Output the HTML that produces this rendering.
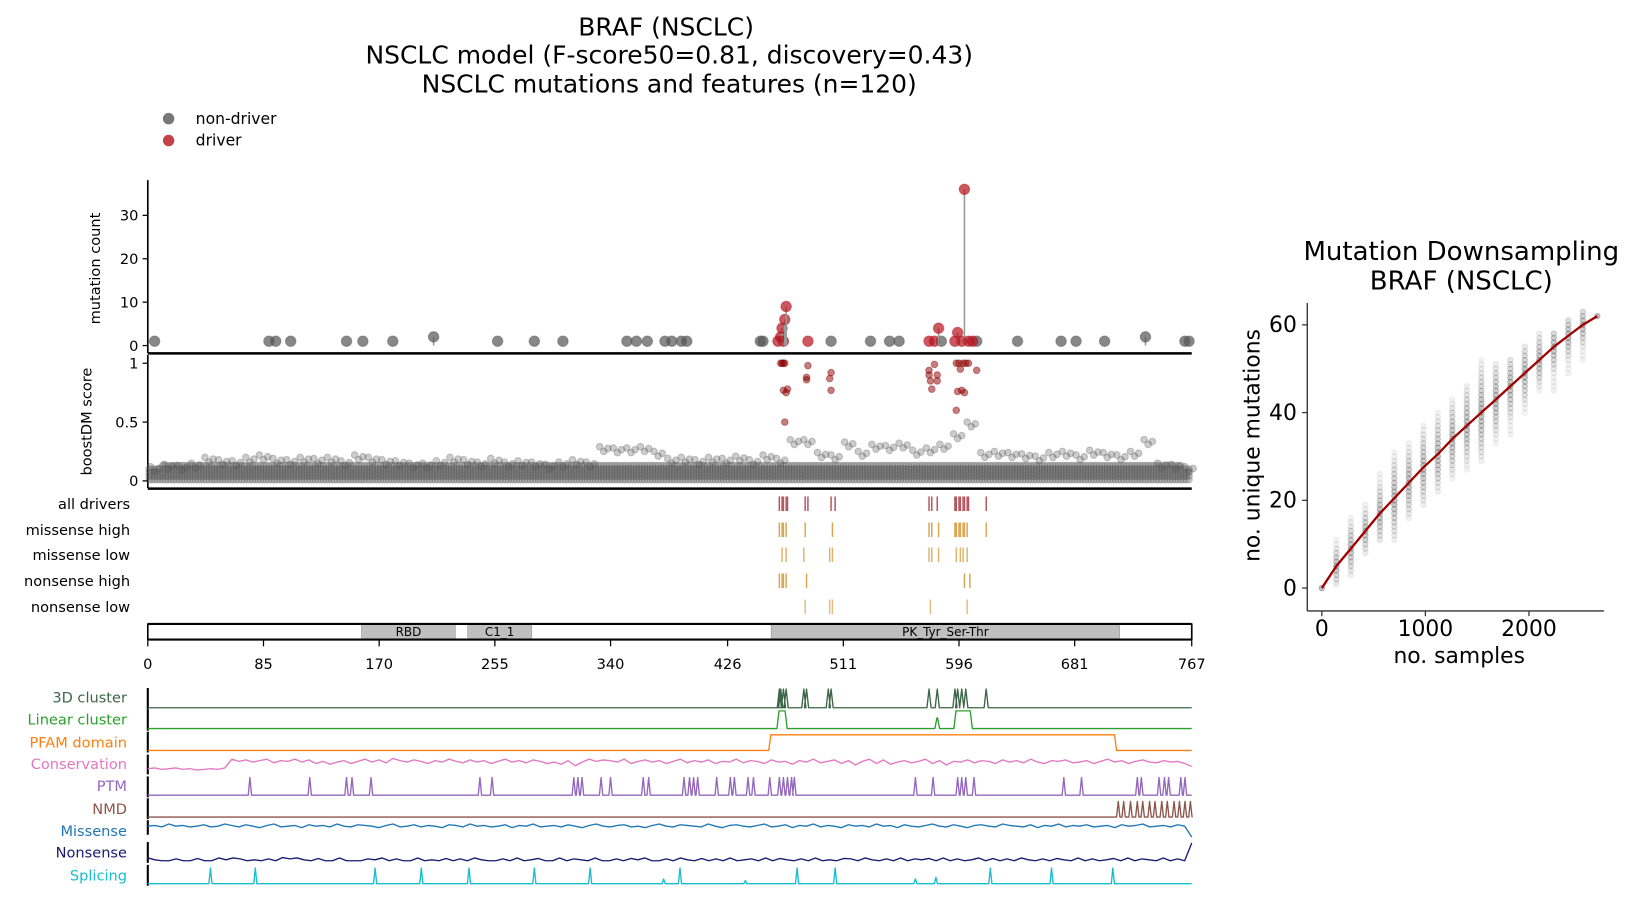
<!DOCTYPE html>
<html><head><meta charset="utf-8"><style>
html,body{margin:0;padding:0;background:#fff;}
svg{display:block;font-family:"DejaVu Sans","Liberation Sans",sans-serif;}
</style></head><body>
<svg id="fig" width="1632" height="905" viewBox="0 0 1568 869.5" xmlns="http://www.w3.org/2000/svg">
<g font-size="24" text-anchor="middle" fill="#000">
<text x="640" y="34">BRAF (NSCLC)</text>
<text x="643" y="61">NSCLC model (F-score50=0.81, discovery=0.43)</text>
<text x="643" y="89">NSCLC mutations and features (n=120)</text>
</g>
<g font-size="15">
<circle cx="162" cy="114" r="5.5" fill="#555" fill-opacity="0.8"/>
<text x="188" y="119">non-driver</text>
<circle cx="162" cy="135" r="5.5" fill="#b5121b" fill-opacity="0.8"/>
<text x="188" y="140">driver</text>
</g>
<g id="main"></g>
<g id="tracks"></g>
<g id="ds"></g>
</svg>
<script>
// ---------- data ----------
const proteinLength = 767;
const xTickLabels = [0,85,170,255,340,426,511,596,681,767];
const nonDriverPos = [5,89,94,105,146,158,180,210,257,284,305,352,359,367,380,385,392,396,450,452,502,531,545,552,583,609,639,671,682,703,733,762,765];
const nonDriverCount = [1,1,1,1,1,1,1,2,1,1,1,1,1,1,1,1,1,1,1,1,1,1,1,1,1,1,1,1,1,1,2,1,1];
const driverPos = [463,465,466,467,468,469,485,574,578,581,593,595,598,600,603,606];
const driverCount = [1,2,4,1,6,9,1,1,1,4,1,3,1,36,1,1];
const boostSegMax = [0.12,0.14,0.13,0.15,0.2,0.18,0.17,0.2,0.22,0.19,0.18,0.2,0.19,0.2,0.17,0.22,0.2,0.18,0.17,0.15,0.15,0.17,0.2,0.18,0.16,0.19,0.16,0.17,0.16,0.14,0.16,0.18,0.16,0.29,0.28,0.28,0.29,0.25,0.19,0.2,0.18,0.2,0.19,0.21,0.18,0.22,0.19,0.35,0.35,0.24,0.22,0.33,0.25,0.31,0.3,0.32,0.26,0.28,0.31,0.4,0.5,0.24,0.25,0.24,0.23,0.21,0.24,0.25,0.22,0.26,0.24,0.22,0.25,0.35,0.15,0.14,0.12];
const driverBoostPos = [465,466,467,468,469,467,470,468,485,484,484,502,501,502,574,574,575,576,578,580,580,594,596,599,601,603,597,595,598,600,594,609];
const driverBoostScore = [1,1,1,1,0.75,0.77,0.78,0.5,0.98,0.88,0.86,0.92,0.87,0.77,0.94,0.9,0.85,0.78,0.99,0.9,0.85,1,1,1,1,1,0.95,0.76,0.77,0.75,0.6,0.94];
const trackNames = ["all drivers","missense high","missense low","nonsense high","nonsense low"];
const allDrivers = [464,466,467,469,470,483,485,502,505,574,576,580,593,594,596,597,599,600,602,603,616];
const missenseHigh = [464,466,467,469,483,503,574,576,581,593,594,596,597,599,600,602,616];
const missenseLow = [466,469,482,501,503,574,576,581,594,597,599,602];
const nonsenseHigh = [464,466,467,469,484,600,604];
const nonsenseLow = [483,501,503,575,602];
const domainNames = ["RBD","C1_1","PK_Tyr_Ser-Thr"];
const domainStart = [157,235,458];
const domainEnd = [226,282,714];
// feature tracks
const cluster3dPeaks = [464,465,467,469,482,484,500,502,574,580,593,595,598,601,616];
const linearStart = [463,593,579];
const linearEnd = [469,605,581];
const linearLevel = [1,1,0.6];
const pfamStart = [457];
const pfamEnd = [711];
const conservation = [0.25,0.3,0.2,0.25,0.3,0.2,0.25,0.15,0.2,0.25,0.2,0.3,0.9,0.75,0.85,0.7,0.8,0.9,0.65,0.8,0.75,0.9,0.7,0.85,0.6,0.75,0.55,0.7,0.8,0.6,0.75,0.9,0.7,0.85,0.65,0.95,0.8,0.7,0.85,0.75,0.6,0.8,0.7,0.9,0.75,0.65,0.85,0.7,0.8,0.6,0.75,0.9,0.7,0.8,0.65,0.85,0.75,0.6,0.7,0.55,0.8,0.45,0.7,0.9,0.75,0.85,0.8,0.7,0.9,0.6,0.75,0.85,0.7,0.8,0.6,0.75,0.9,0.65,0.8,0.7,0.85,0.6,0.75,0.7,0.9,0.65,0.8,0.75,0.6,0.85,0.7,0.75,0.55,0.8,0.7,0.9,0.65,0.75,0.85,0.6,0.8,0.5,0.75,0.9,0.6,0.85,0.55,0.7,0.8,0.65,0.75,0.9,0.6,0.8,0.5,0.75,0.7,0.85,0.65,0.8,0.75,0.6,0.85,0.7,0.8,0.65,0.9,0.7,0.6,0.8,0.75,0.85,0.65,0.7,0.8,0.6,0.75,0.9,0.7,0.8,0.6,0.75,0.85,0.7,0.65,0.8,0.7,0.75,0.6,0.4];
const ptmSites = [75,119,146,150,164,244,253,313,316,319,333,340,364,368,394,398,401,404,418,428,431,441,445,457,464,467,470,473,475,564,577,595,598,601,607,673,686,727,730,743,747,750,759,762];
const nmdSites = [713,717,722,727,731,736,740,745,749,754,758,762,766];
const missense = [0.6,0.7,0.5,0.9,0.6,0.7,0.5,0.6,0.8,0.5,0.6,0.9,0.7,0.5,0.8,0.6,0.4,0.7,0.9,0.5,0.6,0.7,0.4,0.8,0.6,0.7,0.5,0.9,0.6,0.5,0.8,0.7,0.6,0.4,0.7,0.9,0.5,0.6,0.8,0.5,0.7,0.6,0.4,0.8,0.7,0.5,0.9,0.6,0.7,0.5,0.6,0.8,0.4,0.7,0.6,0.9,0.5,0.6,0.7,0.5,0.8,0.6,0.4,0.7,0.9,0.6,0.5,0.7,0.8,0.5,0.6,0.4,0.7,0.9,0.6,0.5,0.8,0.7,0.6,0.5,0.9,0.6,0.4,0.7,0.8,0.6,0.5,0.7,0.9,0.5,0.6,0.8,0.4,0.7,0.6,0.9,0.5,0.7,0.6,0.4,0.8,0.6,0.7,0.5,0.9,0.6,0.7,0.4,0.8,0.6,0.5,0.7,0.9,0.6,0.5,0.8,0.6,0.4,0.7,0.8,0.6,0.5,0.9,0.7,0.6,0.5,0.8,0.4,0.7,0.6,0.9,0.5,0.7,0.6,0.8,0.5,0.6,0.7,0.4,0.8,0.6,0.7,0.9,0.5,0.6,0.7,0.5,0.8,0.6,-0.9];
const nonsense = [0.3,0.1,0,0,0.2,0,0,0.25,0,0,0.3,0.1,0.3,0.2,0,0.1,0,0.2,0,0.35,0.2,0.3,0.1,0,0.25,0,0,0.3,0,0,0,0.2,0.1,0.3,0,0.2,0,0,0.3,0,0.1,0,0.25,0,0.2,0,0.3,0.1,0,0,0.2,0,0.3,0,0.1,0.25,0,0,0.3,0,0.2,0.1,0,0.3,0,0,0.2,0,0.25,0.1,0.3,0,0,0.2,0,0.3,0.1,0,0.25,0,0.2,0,0.3,0,0.1,0.2,0,0.3,0,0.25,0.1,0,0.2,0,0.3,0,0.1,0,0.25,0.2,0,0.3,0.1,0,0.2,0,0.3,0,0.2,0.1,0.25,0,0.3,0,0.2,0,0.1,0.3,0,0.25,0,0.2,0,0.3,0.1,0,0.2,0,0.25,0.1,0,0.3,0,0.2,0,0.1,0.25,0,0.3,0,0.2,0.1,0,0.3,0,0.2,0,1.9];
const splicingSites = [46,79,167,201,236,284,325,379,391,439,477,505,564,579,619,664,709];
const splicingHeight = [1,1,1,1,1,1,1,0.3,1,0.2,1,1,0.3,0.4,1,1,1];
// downsampling
const dsSamples = [0,140,280,420,560,700,840,980,1120,1260,1400,1540,1680,1820,1960,2100,2240,2380,2520,2660];
const dsMean = [0,5,9,13,17,20.5,24,27.5,30.5,34,37,40,43,46,49,52,55,57.5,60,62];
const dsMin = [0,1,3,8,11,11,16,19,22,25,27,29,33,35,40,45,45,49,52,62];
const dsMax = [0,11,16,19,26,31,33,37,40,43,46,52,51,52,55,58,58,61,63,62];
const dsYTicks = [0,20,40,60];
const dsXTicks = [0,1000,2000];

// ---------- helpers ----------
const NS = "http://www.w3.org/2000/svg";
function mk(parent, tag, attrs, text){
  const e = document.createElementNS(NS, tag);
  for (const k in attrs) e.setAttribute(k, attrs[k]);
  if (text !== undefined) e.textContent = text;
  parent.appendChild(e);
  return e;
}
const X0 = 142, X1 = 1145;
const X = aa => X0 + aa / proteinLength * (X1 - X0);
const Y1 = c => 332 - c * 4.17;
const Y2 = s => 462 - s * 113;
const main = document.getElementById('main');
const tracks = document.getElementById('tracks');
const ds = document.getElementById('ds');

// ---------- top panel: mutation count ----------
let e;
e = mk(main,'line',{x1:X0,y1:173,x2:X0,y2:339,stroke:'#000','stroke-width':1.6});


[0,10,20,30].forEach(v=>{
  e = mk(main,'line',{x1:X0-5,y1:Y1(v),x2:X0,y2:Y1(v),stroke:'#000','stroke-width':1.2});
  
  
  e = mk(main,'text',{x:X0-9,y:Y1(v)+5,'font-size':14,'text-anchor':'end'},String(v));
  
  
});
e = mk(main,'text',{x:96,y:258,'font-size':14,'text-anchor':'middle',transform:'rotate(-90 96 258)'},'mutation count');


function lolli(pos,cnt,color,name){
  const x = X(pos), y = Y1(cnt);
  if (cnt > 1){
    e = mk(main,'line',{x1:x,y1:Y1(0),x2:x,y2:y,stroke:'#999','stroke-width':1.5});
    
    
  }
  e = mk(main,'circle',{cx:x,cy:y,r:5,fill:color,'fill-opacity':0.7,stroke:color,'stroke-opacity':0.5});
  
  
}
nonDriverPos.forEach((p,i)=>lolli(p,nonDriverCount[i],'#555','non-driver'));
driverPos.forEach((p,i)=>lolli(p,driverCount[i],'#b5121b','driver'));
e = mk(main,'line',{x1:X0,y1:339.5,x2:X1,y2:339.5,stroke:'#000','stroke-width':2.4});



// ---------- boostDM panel ----------
e = mk(main,'line',{x1:X0,y1:341,x2:X0,y2:469,stroke:'#000','stroke-width':1.6});


[[0,'0'],[0.5,'0.5'],[1,'1']].forEach(([v,l])=>{
  e = mk(main,'line',{x1:X0-5,y1:Y2(v),x2:X0,y2:Y2(v),stroke:'#000','stroke-width':1.2});
  
  
  e = mk(main,'text',{x:X0-9,y:Y2(v)+5,'font-size':14,'text-anchor':'end'},l);
  
  
});
e = mk(main,'text',{x:88,y:405,'font-size':14,'text-anchor':'middle',transform:'rotate(-90 88 405)'},'boostDM score');


const cloud = mk(main,'g',{});


for (let aa=1; aa<proteinLength; aa+=2){
  const m = boostSegMax[Math.min(boostSegMax.length-1, Math.floor(aa/10))];
  for (let s=0.01; s<=Math.min(m,0.13); s+=0.03){
    e = mk(cloud,'circle',{cx:X(aa),cy:Y2(s),r:3.2,fill:'#555','fill-opacity':0.25,stroke:'#555','stroke-opacity':0.3});
    
    
  }
}
boostSegMax.forEach((m,i)=>{
  [[2,0],[5,-0.04],[8,-0.015]].forEach(([off,ds_])=>{
    const aa = i*10 + off;
    e = mk(cloud,'circle',{cx:X(aa),cy:Y2(m + ds_),r:3.2,fill:'#555','fill-opacity':0.3,stroke:'#555','stroke-opacity':0.3});
    
    
  });
});
driverBoostPos.forEach((p,i)=>{
  e = mk(main,'circle',{cx:X(p),cy:Y2(driverBoostScore[i]),r:3.2,fill:'#8b0000','fill-opacity':0.5,stroke:'#8b0000','stroke-opacity':0.4});
  
  
});
e = mk(main,'line',{x1:X0,y1:469.5,x2:X1,y2:469.5,stroke:'#000','stroke-width':2.4});



// ---------- consequence tracks ----------
const trackData = [allDrivers, missenseHigh, missenseLow, nonsenseHigh, nonsenseLow];
const trackColor = ['#b5525c','#d9a550','#dfb36a','#d9a550','#e2bd7f'];
const trackY = [484,509,533,558,583];
trackNames.forEach((n,i)=>{
  e = mk(main,'text',{x:125,y:trackY[i]+5,'font-size':14,'text-anchor':'end'},n);
  
  
  trackData[i].forEach(p=>{
    e = mk(main,'line',{x1:X(p),y1:trackY[i]-7,x2:X(p),y2:trackY[i]+7,stroke:trackColor[i],'stroke-width':1.4});
    
    
  });
});

// ---------- domain bar ----------
e = mk(main,'rect',{x:X0,y:599,width:X1-X0,height:16,fill:'#fff',stroke:'none'});


domainNames.forEach((n,i)=>{
  e = mk(main,'rect',{x:X(domainStart[i]),y:600,width:X(domainEnd[i])-X(domainStart[i]),height:14,fill:'#bfbfbf',stroke:'#999','stroke-width':0.6});
  
  
  e = mk(main,'text',{x:(X(domainStart[i])+X(domainEnd[i]))/2,y:611,'font-size':11.5,'text-anchor':'middle'},n);
  
  
});
[599.5,614.5].forEach(y=>{
  e = mk(main,'line',{x1:X0,y1:y,x2:X1,y2:y,stroke:'#000','stroke-width':2});
  
  
});
[X0,X1].forEach(x=>{
  e = mk(main,'line',{x1:x,y1:599,x2:x,y2:615,stroke:'#000','stroke-width':1.6});
  
  
});
xTickLabels.forEach(v=>{
  e = mk(main,'line',{x1:X(v),y1:615,x2:X(v),y2:621,stroke:'#000','stroke-width':1.2});
  
  
  e = mk(main,'text',{x:X(v),y:643,'font-size':14,'text-anchor':'middle'},String(v));
  
  
});

// ---------- feature tracks ----------
const featNames = ['3D cluster','Linear cluster','PFAM domain','Conservation','PTM','NMD','Missense','Nonsense','Splicing'];
const featColors = ['#3d6647','#2ca02c','#ff7f0e','#e377c2','#9467bd','#8c564b','#1f77b4','#191970','#17becf'];
const featLabelY = [670,691,713,734,755,777,798,819,841];
const featTop = [662,683,704,726,747,768,789,810,832];
const featBase = [680,700,721,742,764,785,800,827,849];
function pathFrom(pts){ return 'M'+pts.map(p=>p[0].toFixed(1)+','+p[1].toFixed(1)).join('L'); }
function spikes(sites, heights, base, top, w){
  const pts=[[X0,base]];
  sites.forEach((s,i)=>{ const h=heights?heights[i]:1; pts.push([X(s)-w,base],[X(s),base-(base-top)*h],[X(s)+w,base]); });
  pts.push([X1,base]); return pts;
}
function series(vals, base, top){
  return vals.map((v,i)=>[X(i*proteinLength/(vals.length-1)), base-(base-top)*v]);
}
featNames.forEach((n,i)=>{
  e = mk(tracks,'text',{x:122,y:featLabelY[i]+5,'font-size':14,'text-anchor':'end',fill:featColors[i]},n);
  
  
  e = mk(tracks,'line',{x1:X0,y1:featTop[i]-1,x2:X0,y2:featBase[i]+2,stroke:'#000','stroke-width':2});
  
  
  let pts;
  if (i===0) pts = spikes(cluster3dPeaks,null,featBase[i],featTop[i],2);
  else if (i===1){ pts=[[X0,featBase[i]]]; linearStart.map((s,k)=>[s,k]).sort((a,b)=>a[0]-b[0]).forEach(([s,k])=>{const t=featBase[i]-(featBase[i]-featTop[i])*linearLevel[k]; pts.push([X(s)-1,featBase[i]],[X(s)+1,t],[X(linearEnd[k])-1,t],[X(linearEnd[k])+1,featBase[i]]);}); pts.push([X1,featBase[i]]); }
  else if (i===2){ pts=[[X0,featBase[i]],[X(pfamStart[0])-1,featBase[i]],[X(pfamStart[0])+1,featTop[i]+2],[X(pfamEnd[0])-1,featTop[i]+2],[X(pfamEnd[0])+1,featBase[i]],[X1,featBase[i]]]; }
  else if (i===3) pts = series(conservation,featBase[i],featTop[i]+2);
  else if (i===4) pts = spikes(ptmSites,null,featBase[i],featTop[i],1.6);
  else if (i===5) pts = spikes(nmdSites,null,featBase[i],featTop[i]+2,1.6);
  else if (i===6) pts = series(missense,featBase[i]-2,featTop[i]+2);
  else if (i===7) pts = series(nonsense,featBase[i],featTop[i]+8);
  else pts = spikes(splicingSites,splicingHeight,featBase[i],featTop[i]+2,1.5);
  e = mk(tracks,'path',{d:pathFrom(pts),fill:'none',stroke:featColors[i],'stroke-width':1.3,'stroke-linejoin':'round'});
  
  
});

// ---------- downsampling chart ----------
const DX = v => 1270 + v * 0.0995;
const DY = v => 565 - v * 4.215;
e = mk(ds,'text',{x:1404,y:250,'font-size':25,'text-anchor':'middle'},'Mutation Downsampling');


e = mk(ds,'text',{x:1404,y:278,'font-size':25,'text-anchor':'middle'},'BRAF (NSCLC)');


dsSamples.forEach((s,i)=>{
  const half = Math.max(1,(dsMax[i]-dsMin[i])/2);
  for (let v=dsMin[i]; v<=dsMax[i]; v++){
    const op = 0.08 + 0.32*Math.max(0,1-Math.abs(v-dsMean[i])/half);
    e = mk(ds,'circle',{cx:DX(s),cy:DY(v),r:2.6,fill:'#666','fill-opacity':op,stroke:'#666','stroke-opacity':op});
    
    
  }
});
e = mk(ds,'path',{d:pathFrom(dsSamples.map((s,i)=>[DX(s),DY(dsMean[i])])),fill:'none',stroke:'#a00000','stroke-width':2.2});


e = mk(ds,'line',{x1:1256,y1:291,x2:1256,y2:587,stroke:'#333','stroke-width':1.3});


e = mk(ds,'line',{x1:1256,y1:587,x2:1541,y2:587,stroke:'#333','stroke-width':1.3});


dsYTicks.forEach(v=>{
  e = mk(ds,'line',{x1:1251,y1:DY(v),x2:1256,y2:DY(v),stroke:'#333','stroke-width':1.2});
  
  
  e = mk(ds,'text',{x:1246,y:DY(v)+7,'font-size':21,'text-anchor':'end'},String(v));
  
  
});
dsXTicks.forEach(v=>{
  e = mk(ds,'line',{x1:DX(v),y1:587,x2:DX(v),y2:592,stroke:'#333','stroke-width':1.2});
  
  
  e = mk(ds,'text',{x:DX(v),y:611,'font-size':21,'text-anchor':'middle'},String(v));
  
  
});
e = mk(ds,'text',{x:1402,y:637,'font-size':21,'text-anchor':'middle'},'no. samples');


e = mk(ds,'text',{x:1210,y:428,'font-size':21,'text-anchor':'middle',transform:'rotate(-90 1210 428)'},'no. unique mutations');


</script>
</body></html>
